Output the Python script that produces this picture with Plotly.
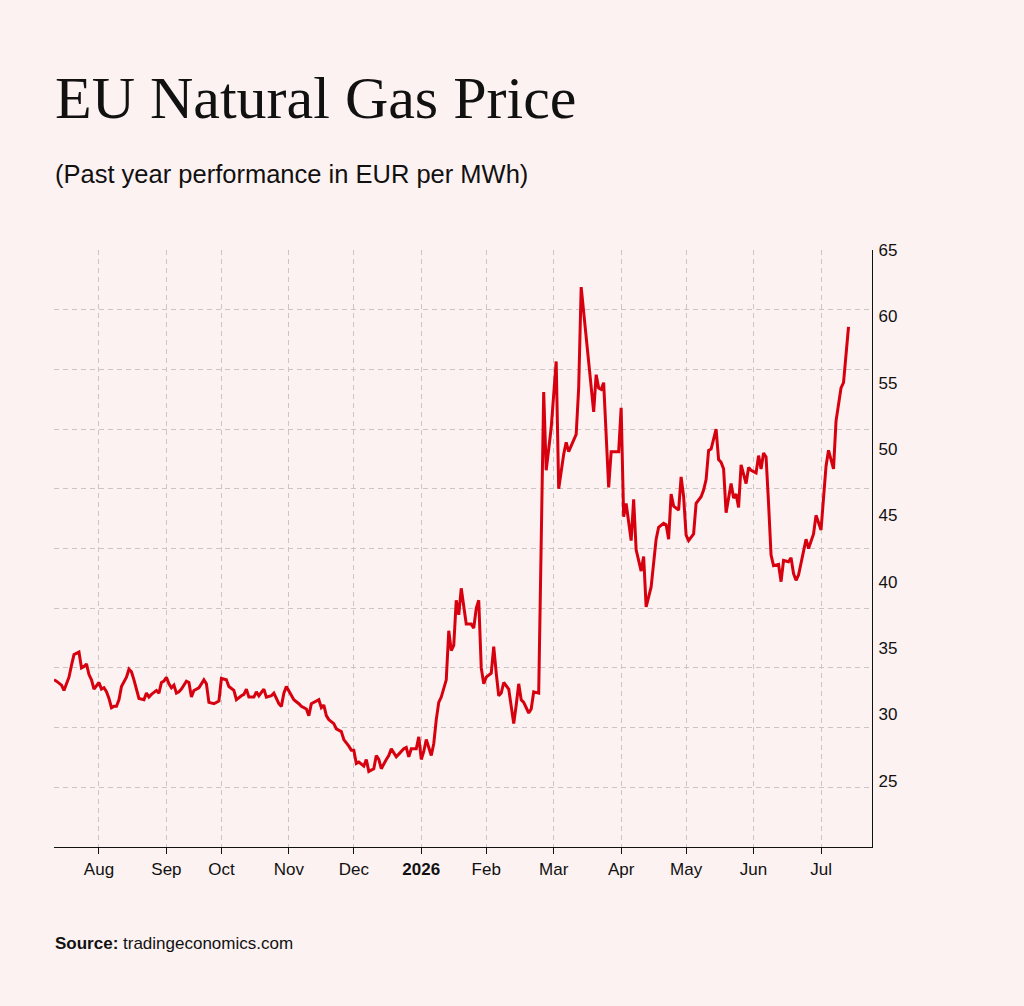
import plotly.graph_objects as go

# trading-session index along the x axis and the EUR/MWh price at that session
session = [0, 1, 3, 4, 5, 6, 7, 8, 10, 11, 12, 13, 14, 15, 16, 18, 19, 20, 21, 22,
           23, 24, 25, 26, 27, 29, 30, 31, 32, 33, 34, 36, 37, 38, 39, 41, 42, 43, 44, 45,
           46, 47, 48, 49, 50, 51, 53, 54, 55, 56, 58, 60, 61, 62, 64, 66, 67, 69, 70, 72,
           73, 75, 76, 77, 78, 80, 81, 82, 84, 85, 87, 88, 90, 91, 92, 93, 95, 96, 98, 99,
           101, 102, 103, 104, 106, 107, 108, 109, 110, 112, 113, 115, 116, 118, 119, 120, 121, 122, 124, 125,
           126, 128, 129, 130, 131, 133, 134, 135, 137, 138, 140, 141, 142, 143, 145, 146, 147, 148, 149, 151,
           152, 153, 154, 155, 157, 158, 159, 160, 161, 162, 163, 165, 167, 168, 169, 170, 171, 172, 173, 175,
           176, 177, 178, 179, 180, 182, 184, 185, 186, 187, 188, 190, 191, 192, 194, 196, 197, 199, 201, 202,
           204, 205, 206, 209, 210, 211, 213, 216, 217, 218, 219, 220, 222, 223, 226, 227, 228, 229, 231, 232,
           233, 235, 236, 237, 239, 240, 241, 242, 244, 245, 246, 247, 248, 250, 251, 252, 253, 254, 256, 257,
           259, 260, 261, 262, 263, 265, 266, 267, 268, 269, 271, 272, 273, 274, 275, 277, 278, 279, 281, 282,
           283, 284, 285, 286, 287, 288, 290, 291, 292, 294, 295, 296, 297, 298, 300, 301, 302, 304, 305, 307,
           309, 310, 312, 313, 315, 316, 318]
price = [32.6, 32.5, 32.2, 31.8, 32.3, 32.8, 33.7, 34.5, 34.7, 33.5, 33.6, 33.8, 33.0, 32.6, 31.9, 32.4, 31.9, 32.0, 31.7, 31.2,
         30.5, 30.6, 30.6, 31.1, 32.1, 32.8, 33.4, 33.2, 32.6, 31.8, 31.2, 31.1, 31.6, 31.3, 31.5, 31.8, 31.6, 32.4, 32.5, 32.8,
         32.3, 32.0, 32.2, 31.6, 31.7, 31.9, 32.5, 32.4, 31.3, 31.8, 32.0, 32.6, 32.3, 30.9, 30.8, 31.0, 32.7, 32.6, 32.1, 31.8,
         31.1, 31.4, 31.5, 31.9, 31.3, 31.3, 31.7, 31.4, 31.9, 31.3, 31.4, 31.6, 30.8, 30.6, 31.6, 32.1, 31.4, 31.1, 30.8, 30.6,
         30.4, 29.9, 30.8, 30.9, 31.1, 30.5, 30.7, 29.9, 29.6, 29.3, 28.9, 28.7, 28.1, 27.6, 27.3, 27.3, 26.3, 26.4, 26.1, 26.6,
         25.7, 25.9, 26.9, 26.6, 25.9, 26.6, 26.9, 27.4, 26.8, 27.0, 27.4, 27.5, 26.8, 27.4, 27.4, 28.3, 26.6, 27.2, 28.1, 26.9,
         27.8, 29.6, 30.9, 31.3, 32.6, 36.3, 34.8, 35.2, 38.6, 37.5, 39.5, 36.8, 36.8, 36.5, 38.0, 38.6, 33.5, 32.3, 32.8, 33.1,
         35.1, 33.1, 31.4, 31.6, 32.4, 31.9, 29.3, 30.7, 32.3, 31.1, 30.9, 30.1, 30.4, 31.7, 31.6, 54.3, 48.4, 51.6, 56.6, 47.0,
         49.6, 50.5, 49.8, 51.1, 54.6, 62.2, 58.4, 52.8, 55.6, 54.6, 54.5, 55.0, 47.1, 49.8, 49.8, 53.1, 44.9, 45.9, 43.1, 46.2,
         42.4, 40.8, 41.9, 38.1, 39.6, 41.4, 43.2, 44.1, 44.4, 44.3, 43.2, 46.6, 45.7, 45.4, 47.9, 46.4, 43.5, 43.1, 43.6, 45.9,
         46.4, 46.9, 47.7, 49.9, 50.0, 51.5, 49.2, 49.0, 48.5, 45.2, 47.4, 46.3, 46.6, 45.6, 48.8, 47.4, 48.6, 48.4, 48.2, 49.5,
         48.5, 49.7, 49.4, 45.9, 42.0, 41.2, 41.3, 40.0, 41.6, 41.5, 41.8, 40.6, 40.1, 40.5, 42.4, 43.2, 42.5, 43.6, 45.0, 43.9,
         48.7, 49.9, 48.5, 52.1, 54.6, 55.0, 59.2]

# month ticks: session index of the first session of each month
month_ticks = [18, 45, 67, 94, 120, 147, 173, 200, 227, 253, 280, 307]
month_labels = ["Aug", "Sep", "Oct", "Nov", "Dec", "<b>2026</b>", "Feb", "Mar", "Apr", "May", "Jun", "Jul"]

# right-hand price labels
price_ticks = [25, 30, 35, 40, 45, 50, 55, 60, 65]
grid_levels = [20, 25, 30, 35, 40, 45, 50, 55, 60, 65]

title = "EU Natural Gas Price"
subtitle = "(Past year performance in EUR per MWh)"
source = "<b>Source:</b> tradingeconomics.com"

BG = "#fdf2f2"
RED = "#d7000f"
GRID = "#cbc5c5"
DASH = "5px,4px"

fig = go.Figure()
# invisible anchor so the gridline axis (y) is rendered
fig.add_trace(go.Scatter(x=[session[0]], y=[grid_levels[-1]], mode="lines", yaxis="y",
                         line=dict(color="rgba(0,0,0,0)", width=0), hoverinfo="skip", showlegend=False))
fig.add_trace(go.Scatter(x=session, y=price, mode="lines",
                         line=dict(color=RED, width=3), yaxis="y2",
                         hoverinfo="skip", showlegend=False))

L, R, T, B = 54, 152, 250, 159
fig.update_layout(
    width=1024, height=1006,
    margin=dict(l=L, r=R, t=T, b=B, pad=0),
    paper_bgcolor=BG, plot_bgcolor=BG,
    font=dict(family="Liberation Sans, Arial, sans-serif", size=17, color="#111111"),
    showlegend=False,
    xaxis=dict(range=[0, 327.4], tickmode="array", tickvals=month_ticks, ticktext=month_labels,
               showgrid=True, gridcolor=GRID, griddash=DASH, gridwidth=1,
               ticks="outside", ticklen=6, tickcolor="#111111", tickwidth=1,
               showline=True, linecolor="#111111", linewidth=1.3, zeroline=False,
               tickfont=dict(size=17, color="#111111"), fixedrange=True),
    yaxis=dict(range=[15, 65], tickmode="array", tickvals=grid_levels,
               showgrid=True, gridcolor=GRID, griddash=DASH, gridwidth=1,
               showticklabels=False, ticks="", showline=False, zeroline=False, fixedrange=True),
    yaxis2=dict(range=[20, 65], overlaying="y", side="right", tickmode="array", tickvals=price_ticks,
                showgrid=False, zeroline=False, showline=True, linecolor="#111111", linewidth=1.3,
                ticks="", ticklabelstandoff=2, tickfont=dict(size=17, color="#111111"), fixedrange=True),
)

W = 1024 - L - R
H = 1006 - T - B
def px_x(px):
    return (px - L) / W
def py(px):
    return (1006 - B - px) / H

fig.add_annotation(text=title, xref="paper", yref="paper", x=px_x(53), y=py(98), xanchor="left", yanchor="middle",
                   showarrow=False, font=dict(family="Liberation Serif, Times New Roman, serif", size=60, color="#111111"))
fig.add_annotation(text=subtitle, xref="paper", yref="paper", x=px_x(53), y=py(174), xanchor="left", yanchor="middle",
                   showarrow=False, font=dict(family="Liberation Sans, Arial, sans-serif", size=25.5, color="#111111"))
fig.add_annotation(text=source, xref="paper", yref="paper", x=px_x(53), y=py(943), xanchor="left", yanchor="middle",
                   showarrow=False, font=dict(family="Liberation Sans, Arial, sans-serif", size=17, color="#111111"))

fig.write_html("out.html", config={"displayModeBar": False},
               post_script="document.body.style.margin='0';document.body.style.background='" + BG + "';")
